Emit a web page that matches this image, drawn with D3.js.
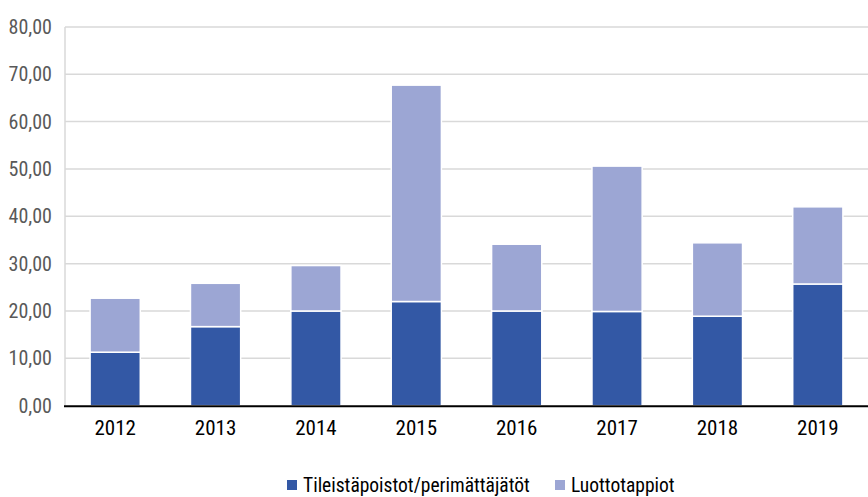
<!DOCTYPE html>
<html><head><meta charset="utf-8">
<script src="https://cdn.jsdelivr.net/npm/d3@7"></script>
<style>
body{margin:0;background:#fff;}
text{font-family:"Liberation Sans Narrow","Roboto Condensed","DejaVu Sans Condensed",sans-serif;}
</style></head>
<body><svg id="c" width="868" height="497"></svg>
<script>
const categories = ["2012","2013","2014","2015","2016","2017","2018","2019"];
const seriesNames = ["Tileistäpoistot/perimättäjätöt","Luottotappiot"];
const writeOffs = [11.3, 16.7, 20.0, 22.0, 20.0, 19.9, 18.9, 25.7];
const creditLosses = [11.4, 9.15, 9.6, 45.7, 14.1, 30.7, 15.5, 16.3];
const yTicks = [0,10,20,30,40,50,60,70,80];
const colors = ["#3358a5","#9ca6d4"];

const svg = d3.select("#c");
const m = {left:65, right:0, top:27, bottom:91};
const W = 868, H = 497;
const x = d3.scaleBand().domain(categories).range([m.left, W - m.right]).paddingInner(0.5).paddingOuter(0.25);
const y = d3.scaleLinear().domain([0,80]).range([405.7, 26.9]);

const fmt = v => d3.format(".2f")(v).replace(".", ",");

// gridlines
svg.append("g").selectAll("line").data(yTicks.filter(t=>t>0)).join("line")
  .attr("x1", m.left).attr("x2", W).attr("y1", d=>y(d)).attr("y2", d=>y(d))
  .attr("stroke","#d9d9d9").attr("stroke-width",1.5);
svg.append("line").attr("x1",m.left).attr("x2",m.left).attr("y1",y(80)).attr("y2",y(0))
  .attr("stroke","#d9d9d9").attr("stroke-width",1.5);

// y axis labels
const yAxis = d3.axisLeft(y).tickValues(yTicks).tickFormat(fmt).tickSize(0).tickPadding(13);
const ga = svg.append("g").attr("transform",`translate(${m.left},0)`).call(yAxis);
ga.select(".domain").remove();
ga.selectAll("text").attr("font-size",20).attr("fill","#595959")
  .style("font-family",'"Liberation Sans Narrow","Roboto Condensed",sans-serif');

// stacked data
const rows = categories.map((c,i)=>({cat:c, a:writeOffs[i], b:creditLosses[i]}));
const stack = d3.stack().keys(["a","b"])(rows);
svg.append("g").selectAll("g").data(stack).join("g")
  .attr("fill",(d,i)=>colors[i])
  .selectAll("rect").data(d=>d).join("rect")
  .attr("x", d=>x(d.data.cat)).attr("width", x.bandwidth())
  .attr("y", d=>y(d[1])).attr("height", d=>y(d[0])-y(d[1]))
  .attr("stroke","#ffffff").attr("stroke-width",1.5);

// zero axis
svg.append("line").attr("x1",m.left-1).attr("x2",W).attr("y1",y(0)+0.5).attr("y2",y(0)+0.5)
  .attr("stroke","#000").attr("stroke-width",2);

// x axis labels
const xAxis = d3.axisBottom(x).tickSize(0).tickPadding(14);
const gx = svg.append("g").attr("transform",`translate(0,${y(0)})`).call(xAxis);
gx.select(".domain").remove();
gx.selectAll("text").attr("font-size",21).attr("fill","#000")
  .style("font-family",'"Liberation Sans Narrow","Roboto Condensed",sans-serif');

// legend
const legX = [287, 555];
const lg = svg.append("g");
seriesNames.forEach((n,i)=>{
  lg.append("rect").attr("x",legX[i]).attr("y",480).attr("width",10).attr("height",10).attr("fill",colors[i]);
  lg.append("text").attr("x",legX[i]+16).attr("y",492).attr("font-size",19.5).attr("fill","#000").text(n);
});
</script></body></html>
